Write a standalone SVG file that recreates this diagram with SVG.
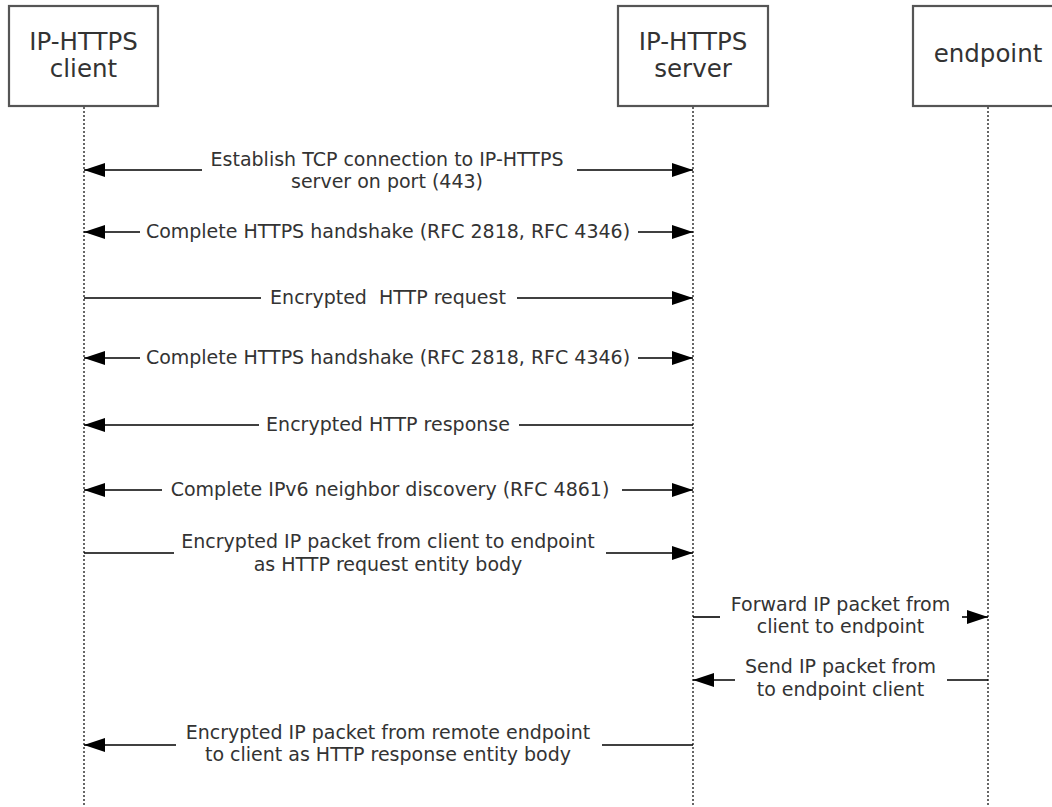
<svg xmlns="http://www.w3.org/2000/svg" width="1052" height="807" viewBox="0 0 1052 807">
<style>
.box{fill:#fff;stroke:#555;stroke-width:2.2}
.life{stroke:#666;stroke-width:2;stroke-dasharray:2 2;fill:none}
.lbl{font-family:"DejaVu Sans",Verdana,sans-serif;font-size:24.5px;fill:#333;text-anchor:middle}
.msg{font-family:"DejaVu Sans",Verdana,sans-serif;font-size:19px;fill:#333;text-anchor:middle;white-space:pre}
.ln{stroke:#000;stroke-width:1.6;fill:none}
.ar{stroke:#000;stroke-width:1.6;fill:none;marker-end:url(#ah)}
</style>
<defs>
<marker id="ah" markerUnits="userSpaceOnUse" markerWidth="22" markerHeight="14" refX="21" refY="7" orient="auto">
<path d="M0,0 L21,7 L0,14 Z" fill="#000"/>
</marker>
</defs>
<g id="lifelines">
<line class="life" x1="84" y1="107" x2="84" y2="807"/>
<line class="life" x1="693" y1="107" x2="693" y2="807"/>
<line class="life" x1="988" y1="107" x2="988" y2="807"/>
</g>
<g id="client">
<rect class="box" x="9" y="6" width="149" height="100"/>
<text class="lbl" x="83.5" y="50">IP-HTTPS</text>
<text class="lbl" x="83.5" y="77">client</text>
</g>
<g id="server">
<rect class="box" x="618" y="6" width="150" height="100"/>
<text class="lbl" x="693" y="50">IP-HTTPS</text>
<text class="lbl" x="693" y="77">server</text>
</g>
<g id="endpoint">
<rect class="box" x="913" y="6" width="150" height="100"/>
<text class="lbl" x="988" y="62">endpoint</text>
</g>
<g id="connectors">
<line class="ar" x1="202" y1="170" x2="84" y2="170"/>
<line class="ar" x1="577" y1="170" x2="693" y2="170"/>
<line class="ar" x1="140" y1="232" x2="84" y2="232"/>
<line class="ar" x1="638" y1="232" x2="693" y2="232"/>
<line class="ln" x1="84" y1="298" x2="261" y2="298"/>
<line class="ar" x1="517" y1="298" x2="693" y2="298"/>
<line class="ar" x1="140" y1="358" x2="84" y2="358"/>
<line class="ar" x1="638" y1="358" x2="693" y2="358"/>
<line class="ar" x1="259" y1="425" x2="84" y2="425"/>
<line class="ln" x1="519" y1="425" x2="693" y2="425"/>
<line class="ar" x1="162" y1="490" x2="84" y2="490"/>
<line class="ar" x1="622" y1="490" x2="693" y2="490"/>
<line class="ln" x1="84" y1="553" x2="174" y2="553"/>
<line class="ar" x1="606" y1="553" x2="693" y2="553"/>
<line class="ln" x1="693" y1="617" x2="720" y2="617"/>
<line class="ar" x1="962" y1="617" x2="988" y2="617"/>
<line class="ar" x1="735" y1="680" x2="693" y2="680"/>
<line class="ln" x1="947" y1="680" x2="988" y2="680"/>
<line class="ar" x1="176" y1="745" x2="84" y2="745"/>
<line class="ln" x1="602" y1="745" x2="693" y2="745"/>
</g>
<g id="labels">
<text class="msg" x="387" y="166">Establish TCP connection to IP-HTTPS</text>
<text class="msg" x="387" y="188">server on port (443)</text>
<text class="msg" x="388" y="238">Complete HTTPS handshake (RFC 2818, RFC 4346)</text>
<text class="msg" x="388" y="304" xml:space="preserve">Encrypted  HTTP request</text>
<text class="msg" x="388" y="364">Complete HTTPS handshake (RFC 2818, RFC 4346)</text>
<text class="msg" x="388" y="431">Encrypted HTTP response</text>
<text class="msg" x="390" y="496">Complete IPv6 neighbor discovery (RFC 4861)</text>
<text class="msg" x="388" y="548">Encrypted IP packet from client to endpoint</text>
<text class="msg" x="388" y="571">as HTTP request entity body</text>
<text class="msg" x="840.5" y="611">Forward IP packet from</text>
<text class="msg" x="840.5" y="633">client to endpoint</text>
<text class="msg" x="840.5" y="673">Send IP packet from</text>
<text class="msg" x="840.5" y="696">to endpoint client</text>
<text class="msg" x="388" y="739">Encrypted IP packet from remote endpoint</text>
<text class="msg" x="388" y="761">to client as HTTP response entity body</text>
</g>
</svg>
